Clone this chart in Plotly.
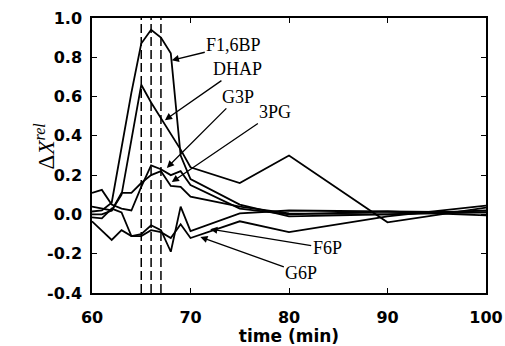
import plotly.graph_objects as go

# ---- data ----
time_min = [60, 61, 62, 63, 64, 65, 66, 67, 68, 69, 70, 75, 80, 90, 100]

f16bp = [0.015, 0.02, 0.06, 0.35, 0.62, 0.87, 0.94, 0.90, 0.82, 0.30, 0.18, 0.05, -0.01, 0.00, 0.01]
dhap  = [0.00, 0.00, 0.02, 0.10, 0.38, 0.66, 0.57, 0.49, 0.41, 0.33, 0.24, 0.16, 0.30, -0.04, 0.035]
g3p   = [0.11, 0.125, 0.05, 0.03, 0.02, 0.14, 0.25, 0.23, 0.20, 0.22, 0.15, 0.03, 0.00, 0.015, 0.01]
pg3   = [0.04, 0.03, 0.02, 0.11, 0.11, 0.16, 0.20, 0.22, 0.145, 0.14, 0.09, 0.04, 0.005, 0.00, 0.02]
f6p   = [-0.015, -0.02, 0.03, 0.01, -0.11, -0.10, -0.055, -0.08, -0.19, 0.04, -0.085, 0.005, 0.02, 0.015, -0.005]
g6p   = [-0.035, -0.08, -0.13, -0.08, -0.11, -0.11, -0.08, -0.09, -0.12, -0.05, -0.12, -0.035, -0.09, -0.01, 0.045]

series_names = ["F1,6BP", "DHAP", "G3P", "3PG", "F6P", "G6P"]
series_values = [f16bp, dhap, g3p, pg3, f6p, g6p]

pulse_times = [65, 66, 67]

x_ticks = [60, 70, 80, 90, 100]
y_ticks = [-0.4, -0.2, 0.0, 0.2, 0.4, 0.6, 0.8, 1.0]
y_tick_labels = ["-0.4", "-0.2", "0.0", "0.2", "0.4", "0.6", "0.8", "1.0"]

# label: (arrow tip t, arrow tip value, text offset px dx, dy)
label_arrows = {
    "F1,6BP": (68.1, 0.785, 62, -15),
    "DHAP":   (67.4, 0.48, 73, -51),
    "G3P":    (67.6, 0.237, 71, -71),
    "3PG":    (68.1, 0.165, 103, -70),
    "F6P":    (72.0, -0.075, 117, 19),
    "G6P":    (71.0, -0.115, 101, 36),
}

fig = go.Figure()
for name, vals in zip(series_names, series_values):
    fig.add_trace(go.Scatter(x=time_min, y=vals, mode="lines", name=name,
                             line=dict(color="black", width=1.8), showlegend=False))

for t in pulse_times:
    fig.add_shape(type="line", x0=t, x1=t, xref="x", y0=0, y1=1, yref="paper",
                  line=dict(color="black", width=1.5, dash="9px,4px"))

for name, (tx, ty, dx, dy) in label_arrows.items():
    fig.add_annotation(x=tx, y=ty, xref="x", yref="y", text=name, showarrow=True,
                       ax=dx, ay=dy, arrowhead=2, arrowsize=1.1, arrowwidth=1.3,
                       arrowcolor="black",
                       font=dict(family="Liberation Serif", size=18, color="black"))

fig.add_annotation(xref="paper", yref="paper", x=-0.118, y=0.535,
                   xanchor="center", yanchor="middle",
                   text="Δ<i>X</i><sup><i>rel</i></sup>", showarrow=False,
                   textangle=-90,
                   font=dict(family="Liberation Serif", size=23, color="black"))

axis_font = dict(family="DejaVu Sans", size=16, color="black", weight="bold")

fig.update_xaxes(range=[60, 100], tickvals=x_ticks, ticks="inside", ticklen=5,
                 tickwidth=1.3, tickcolor="black", showline=True, linecolor="black",
                 linewidth=1.5, mirror="ticks", showgrid=False, zeroline=False,
                 tickfont=axis_font, ticklabelstandoff=9, automargin=False,
                 title=dict(text="time (min)", font=dict(family="DejaVu Sans", size=17,
                                                          color="black", weight="bold"),
                            standoff=9))
fig.update_yaxes(range=[-0.4, 1.0], tickvals=y_ticks, ticktext=y_tick_labels,
                 ticks="inside", ticklen=5, tickwidth=1.3, tickcolor="black",
                 showline=True, linecolor="black", linewidth=1.5, mirror="ticks",
                 showgrid=False, zeroline=False, tickfont=axis_font,
                 ticklabelstandoff=5, automargin=False)

fig.update_layout(width=505, height=346, margin=dict(l=92, r=19, t=18, b=53),
                  plot_bgcolor="white", paper_bgcolor="white")

fig.write_html("out.html")
